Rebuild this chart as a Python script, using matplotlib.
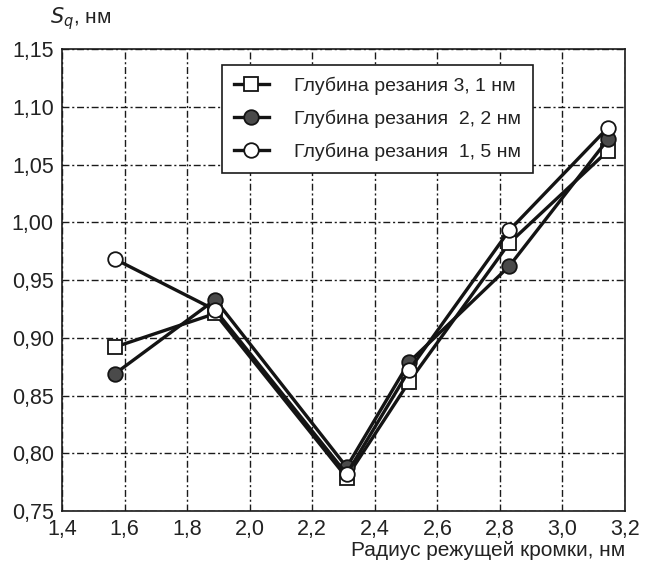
import matplotlib
matplotlib.use('Agg')
import matplotlib.pyplot as plt
from matplotlib.ticker import FuncFormatter, MultipleLocator

plt.rcParams['font.family'] = ['Liberation Sans', 'DejaVu Sans']

# Radius of cutting edge, nm
radius = [1.57, 1.89, 2.31, 2.51, 2.83, 3.146]

# Sq, nm for each depth of cut
sq_31 = [0.892, 0.921, 0.779, 0.862, 0.982, 1.062]
sq_22 = [0.869, 0.933, 0.788, 0.879, 0.962, 1.072]
sq_15 = [0.968, 0.924, 0.782, 0.872, 0.993, 1.082]

labels = ['Глубина резания 3, 1 нм',
          'Глубина резания  2, 2 нм',
          'Глубина резания  1, 5 нм']

TXT = '#222222'

fig = plt.figure(figsize=(6.46, 5.66), dpi=100)
ax = fig.add_axes([62 / 646, 1 - 511 / 566, 563 / 646, 462 / 566])

line_kw = dict(color='#141414', lw=2.4, markersize=10.5, markeredgewidth=1.3,
               markeredgecolor='#141414')
ax.plot(radius, sq_31, marker='s', markerfacecolor='white', label=labels[0],
        zorder=3, **line_kw)
ax.plot(radius, sq_22, marker='o', markerfacecolor='#4a4a4a', label=labels[1],
        zorder=4, **line_kw)
ax.plot(radius, sq_15, marker='o', markerfacecolor='white', label=labels[2],
        zorder=5, **line_kw)

ax.set_xlim(1.4, 3.2)
ax.set_ylim(0.75, 1.15)
ax.xaxis.set_major_locator(MultipleLocator(0.2))
ax.yaxis.set_major_locator(MultipleLocator(0.05))
ax.xaxis.set_major_formatter(FuncFormatter(lambda v, p: f"{v:.1f}".replace('.', ',')))
ax.yaxis.set_major_formatter(FuncFormatter(lambda v, p: f"{v:.2f}".replace('.', ',')))
ax.tick_params(length=0, labelsize=15.5, pad=6, colors=TXT)

ax.grid(True, color='#1a1a1a', lw=1.0, linestyle=(0, (5, 2, 1.5, 2)))
for sp in ax.spines.values():
    sp.set_linewidth(1.2)
    sp.set_color('#1a1a1a')

leg = ax.legend(loc='upper left', bbox_to_anchor=(0.284, 0.965), fontsize=14,
                frameon=True, fancybox=False, framealpha=1, edgecolor='#1a1a1a',
                handlelength=1.8, handletextpad=1.3, borderpad=0.6,
                labelspacing=0.75, borderaxespad=0)
leg.get_frame().set_linewidth(1.2)
for t in leg.get_texts():
    t.set_color(TXT)

fig.text(50 / 646, 1 - 19 / 566, r'$S_q$, нм', fontsize=15, va='center',
         ha='left', color=TXT)
fig.text(625 / 646, 1 - 550 / 566, 'Радиус режущей кромки, нм', fontsize=15,
         va='center', ha='right', color=TXT)

fig.savefig('out.png', dpi=100)
